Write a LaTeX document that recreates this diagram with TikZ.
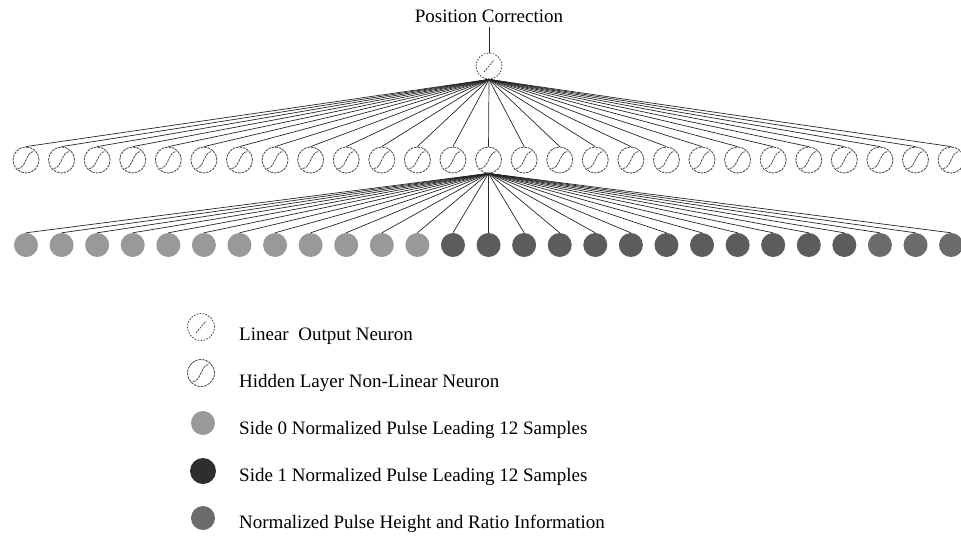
\documentclass[tikz,border=0pt]{standalone}
\usepackage{fontspec}
\setmainfont{Liberation Serif}
\begin{document}
\begin{tikzpicture}[x=1pt,y=-1pt,
  conn/.style={draw=black!85,line width=0.7pt},
  ring/.style={circle,draw=black!70,line width=0.85pt,dash pattern=on 2.6pt off 0.9pt,inner sep=0pt,minimum size=26pt},
  hidn/.style={ring,path picture={\draw[black!75,line width=0.75pt]
     ([shift={(-8pt,-8.5pt)}]path picture bounding box.center)
     .. controls +(8pt,0pt) and +(-8pt,0pt) ..
     ([shift={(8pt,8.5pt)}]path picture bounding box.center);}},
  outn/.style={ring,dash pattern=on 1.6pt off 1.4pt,path picture={\draw[black!75,line width=0.75pt,dash pattern=on 2pt off 1pt]
     ([shift={(-5pt,-6pt)}]path picture bounding box.center) --
     ([shift={(5pt,6pt)}]path picture bounding box.center);}},
  dot/.style={circle,draw=none,inner sep=0pt,minimum size=24pt},
  sidezero/.style={dot,fill=black!40},
  sideone/.style={dot,fill=black!64},
  sideonekey/.style={dot,fill=black!82,minimum size=26pt},
  normn/.style={dot,fill=black!58},
  lab/.style={anchor=base west,inner sep=0pt,font=\fontsize{19}{22}\selectfont},
  title/.style={anchor=base,inner sep=0pt,font=\fontsize{19}{22}\selectfont}
]
\useasboundingbox (0,0) rectangle (961,536);
\clip (0,0) rectangle (961,536);

% title and output neuron
\node[title] (pc) at (489,22) {Position Correction};
\coordinate (pcb) at (489,27);
\node[outn] (out) at (489,66) {};
\draw[conn] (pcb) -- (out.north);

% hidden layer
\foreach \i in {1,...,27}{
  \node[hidn] (h\i) at ({26+(\i-1)*35.58},160) {};
}
% input layer
\foreach \i in {1,...,12}{
  \node[sidezero] (in\i) at ({26+(\i-1)*35.58},245) {};
}
\foreach \i in {13,...,24}{
  \node[sideone] (in\i) at ({26+(\i-1)*35.58},245) {};
}
\foreach \i in {25,...,27}{
  \node[normn] (in\i) at ({26+(\i-1)*35.58},245) {};
}

% connections
\foreach \i in {1,...,27}{
  \draw[conn] (out.south) -- (h\i.north);
  \draw[conn] (h14.south) -- (in\i.north);
}

% legend
\node[outn,minimum size=27pt] (k1) at (201,327) {};
\node[lab] (t1) at (239,340) {Linear\ \ Output Neuron};
\node[hidn,minimum size=27pt] (k2) at (201,373) {};
\node[lab] (t2) at (239,387) {Hidden Layer Non-Linear Neuron};
\node[sidezero] (k3) at (203,423) {};
\node[lab] (t3) at (239,434) {Side 0 Normalized Pulse Leading 12 Samples};
\node[sideonekey] (k4) at (203,471) {};
\node[lab] (t4) at (239,481) {Side 1 Normalized Pulse Leading 12 Samples};
\node[normn] (k5) at (203,518) {};
\node[lab] (t5) at (239,528) {Normalized Pulse Height and Ratio Information};
\end{tikzpicture}
\end{document}
